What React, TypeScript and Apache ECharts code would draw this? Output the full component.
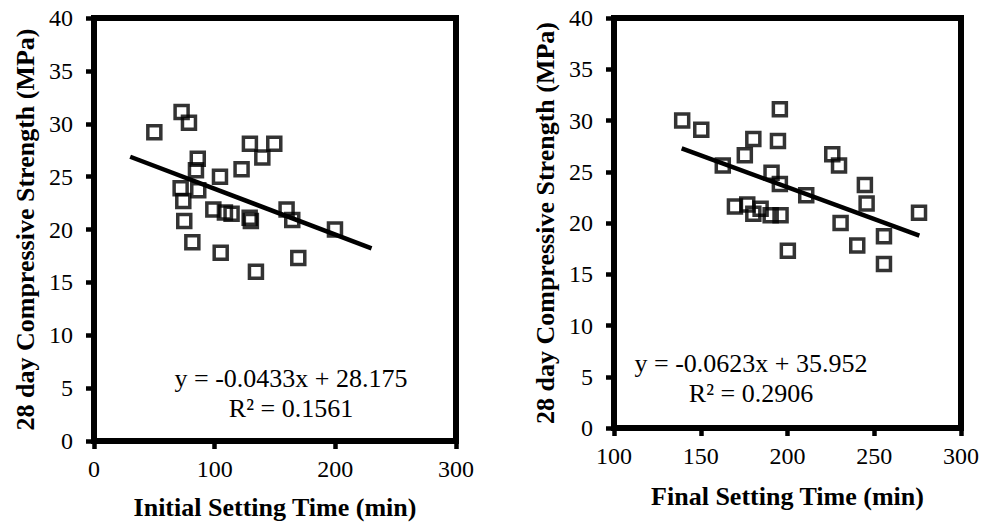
import React, { useEffect, useRef } from "react";
import * as echarts from "echarts";

// Left panel: Initial Setting Time (min) vs 28 day Compressive Strength (MPa)
const initialX = [50, 72.6, 78.7, 86, 84.5, 71.8, 74, 86.4, 74.8, 81.5, 104.4, 122.3, 129.2, 149.4, 139.5, 98.9, 108.5, 114, 129, 130, 105, 134.2, 159.6, 164.3, 169.3, 199.7];
const initialY = [29.2, 31.1, 30.1, 26.7, 25.6, 23.9, 22.7, 23.7, 20.8, 18.8, 25.0, 25.7, 28.1, 28.1, 26.8, 21.9, 21.6, 21.5, 21.1, 20.8, 17.8, 16.0, 21.9, 20.9, 17.3, 20.0];
const initialTrendX = [30, 230];
const initialTrendY = [26.88, 18.22];
const initialEquation = ["y = -0.0433x + 28.175", "R² = 0.1561"];

// Right panel: Final Setting Time (min) vs 28 day Compressive Strength (MPa)
const finalX = [139.3, 150.3, 162.7, 175.4, 180.3, 195.6, 194.5, 190.8, 195.6, 169.7, 176.8, 180.3, 184.5, 190.3, 196, 200.2, 210.8, 225.8, 229.7, 230.6, 244.6, 245.6, 240.2, 255.6, 255.6, 275.8];
const finalY = [30.0, 29.1, 25.6, 26.6, 28.2, 31.1, 28.0, 24.9, 23.8, 21.6, 21.8, 20.9, 21.4, 20.75, 20.75, 17.3, 22.7, 26.7, 25.6, 20.0, 23.7, 21.9, 17.8, 18.7, 16.0, 21.0];
const finalTrendX = [139, 276];
const finalTrendY = [27.29, 18.76];
const finalEquation = ["y = -0.0623x + 35.952", "R² = 0.2906"];

const yTitle = "28 day Compressive Strength (MPa)";
const xTitles = ["Initial Setting Time (min)", "Final Setting Time (min)"];

const FONT = "Liberation Serif";

const zip = (xs: number[], ys: number[]) => xs.map((x, i) => [x, ys[i]]);

export default function App() {
  const ref = useRef<HTMLDivElement>(null);
  useEffect(() => {
    if (!ref.current) return;
    const chart = echarts.init(ref.current, null, { renderer: "svg" });
    const axisLine = { show: true, onZero: false, lineStyle: { color: "#000", width: 6 } };
    const axisTick = { show: true, inside: false, length: 8, lineStyle: { color: "#000", width: 4.5 } };
    const label = (margin: number) => ({ fontSize: 24, color: "#000", fontFamily: FONT, margin });
    const nameStyle = { fontSize: 26, fontWeight: "bold", color: "#000", fontFamily: FONT };
    const yAxis = (gi: number) => ({
      gridIndex: gi,
      type: "value",
      min: 0,
      max: 40,
      interval: 5,
      axisLine,
      axisTick,
      splitLine: { show: false },
      axisLabel: label(21),
      name: yTitle,
      nameLocation: "middle",
      nameGap: 56,
      nameTextStyle: nameStyle,
    });
    const scatterStyle = {
      type: "scatter",
      symbol: "rect",
      symbolSize: 13,
      itemStyle: { color: "transparent", borderColor: "#000", borderWidth: 3.5 },
      z: 3,
    };
    const lineStyle = {
      type: "line",
      symbol: "none",
      lineStyle: { color: "#000", width: 4.5 },
      z: 4,
    };
    const eqStyle = (text: string) => ({ text, fontSize: 26, fontFamily: FONT, fill: "#000", align: "center", verticalAlign: "middle" });
    chart.setOption({
      animation: false,
      backgroundColor: "#fff",
      textStyle: { fontFamily: FONT },
      grid: [
        { left: 94, top: 18, width: 362, height: 423, show: true, borderColor: "#000", borderWidth: 6 },
        { left: 614, top: 18, width: 347, height: 410, show: true, borderColor: "#000", borderWidth: 6 },
      ],
      xAxis: [
        {
          gridIndex: 0, type: "value", min: 0, max: 300, interval: 100,
          axisLine, axisTick, splitLine: { show: false }, axisLabel: label(16),
          name: xTitles[0], nameLocation: "middle", nameGap: 53, nameTextStyle: nameStyle,
        },
        {
          gridIndex: 1, type: "value", min: 100, max: 300, interval: 50,
          axisLine, axisTick, splitLine: { show: false }, axisLabel: label(16),
          name: xTitles[1], nameLocation: "middle", nameGap: 55, nameTextStyle: nameStyle,
        },
      ],
      yAxis: [yAxis(0), yAxis(1)],
      series: [
        { ...scatterStyle, xAxisIndex: 0, yAxisIndex: 0, data: zip(initialX, initialY) },
        { ...lineStyle, xAxisIndex: 0, yAxisIndex: 0, data: zip(initialTrendX, initialTrendY) },
        { ...scatterStyle, xAxisIndex: 1, yAxisIndex: 1, data: zip(finalX, finalY) },
        { ...lineStyle, xAxisIndex: 1, yAxisIndex: 1, data: zip(finalTrendX, finalTrendY) },
      ],
      graphic: [
        { type: "text", x: 291, y: 378, style: eqStyle(initialEquation[0]) },
        { type: "text", x: 291, y: 408, style: eqStyle(initialEquation[1]) },
        { type: "text", x: 751, y: 363, style: eqStyle(finalEquation[0]) },
        { type: "text", x: 751, y: 393, style: eqStyle(finalEquation[1]) },
      ],
    });
    return () => chart.dispose();
  }, []);
  return (
    <div
      ref={ref}
      style={{ position: "fixed", left: 0, top: 0, width: 985, height: 526 }}
    />
  );
}
